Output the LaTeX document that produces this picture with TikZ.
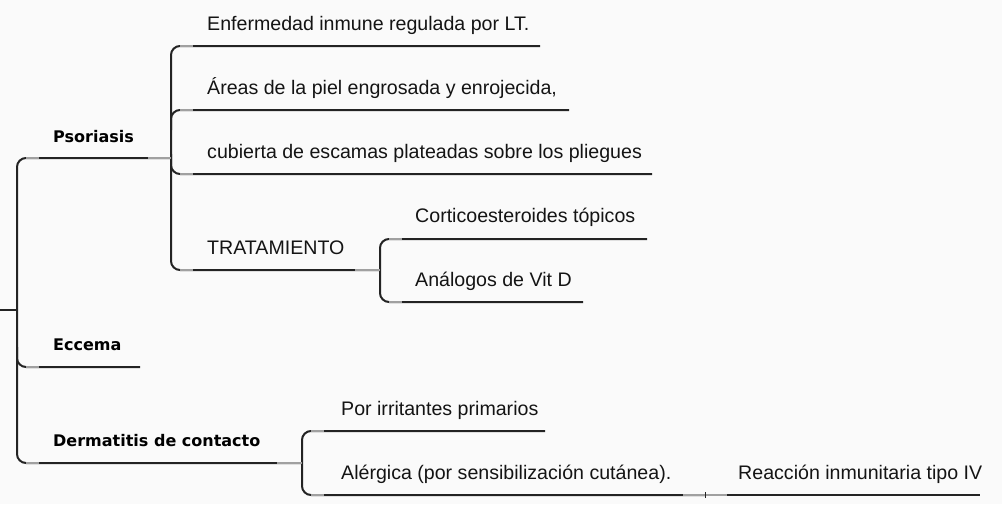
\documentclass[tikz,border=0pt]{standalone}
\usepackage{fontspec}
\setmainfont{Liberation Sans}
\newfontfamily\headfont{DejaVu Sans}
\definecolor{bgc}{RGB}{250,250,250}
\definecolor{linec}{RGB}{35,35,35}
\definecolor{jointc}{RGB}{160,160,160}
\definecolor{textc}{RGB}{20,20,20}
\begin{document}
\begin{tikzpicture}[x=1pt,y=-1pt]
\tikzset{
  branch/.style={draw=linec, line width=2pt, rounded corners=9pt},
  joint/.style={draw=jointc, line width=2.2pt},
  leaf/.style={anchor=base west, inner sep=0pt, text=textc, font=\fontsize{19.6}{23}\selectfont},
  topic/.style={anchor=base west, inner sep=0pt, text=black, font=\headfont\bfseries\fontsize{16}{19}\selectfont},
}
\fill[bgc] (0,0) rectangle (1002,504);
\useasboundingbox (0,0) rectangle (1002,504);

% texts
\node[topic] (pso) at (53,142) {Psoriasis};
\node[topic] (ecc) at (53,350) {Eccema};
\node[topic] (der) at (53,446) {Dermatitis de contacto};
\node[leaf] (enf) at (207,30) {Enfermedad inmune regulada por LT.};
\node[leaf] (are) at (207,94) {Áreas de la piel engrosada y enrojecida,};
\node[leaf] (cub) at (207,158) {cubierta de escamas plateadas sobre los pliegues};
\node[leaf] (tra) at (207,254) {TRATAMIENTO};
\node[leaf] (cor) at (415,222) {Corticoesteroides tópicos};
\node[leaf] (ana) at (415,286) {Análogos de Vit D};
\node[leaf] (por) at (341,415) {Por irritantes primarios};
\node[leaf] (ale) at (341,479) {Alérgica (por sensibilización cutánea).};
\node[leaf] (rea) at (738,479) {Reacción inmunitaria tipo IV};

% junction coordinates
\coordinate (root) at (0,310);
\coordinate (rv) at (17,310);
\coordinate (psoJ) at (171,158);
\coordinate (traJ) at (380,270);
\coordinate (derJ) at (302,463);
\coordinate (aleJ) at (705,495);
\coordinate (enfE) at (540,46);
\coordinate (areE) at (569,110);
\coordinate (cubE) at (652,174);
\coordinate (corE) at (647,239);
\coordinate (anaE) at (583,302);
\coordinate (eccE) at (140,367);
\coordinate (porE) at (545,431);
\coordinate (reaE) at (980,495);

% root level
\draw[branch] (root) -- (rv);
\draw[branch] (psoJ) -- (17,158) -- (17,463) -- (derJ);
\draw[branch] (17,347) -- (17,367) -- (eccE);

% Psoriasis children
\draw[branch] (enfE) -- (171,46) -- (171,270) -- (traJ);
\draw[branch] (171,130) -- (171,110) -- (areE);
\draw[branch] (171,154) -- (171,174) -- (cubE);

% TRATAMIENTO children
\draw[branch] (corE) -- (380,239) -- (380,302) -- (anaE);

% Dermatitis children
\draw[branch] (porE) -- (302,431) -- (302,495) -- (aleJ);
\draw[branch] (aleJ) -- (reaE);

% grey joints
\draw[joint] (148,158) -- (psoJ);
\draw[joint] (355,270) -- (traJ);
\draw[joint] (277,463) -- (derJ);
\draw[joint] (683,495) -- (727,495);
\draw[linec, line width=0.8pt] (705,492) -- (705,498);
\foreach \v/\c in {17/158,17/367,17/463,171/46,171/110,171/174,171/270,380/239,380/302,302/431,302/495}{
  \draw[joint] (\v+9,\c) -- (\v+22,\c);
}
\end{tikzpicture}
\end{document}
